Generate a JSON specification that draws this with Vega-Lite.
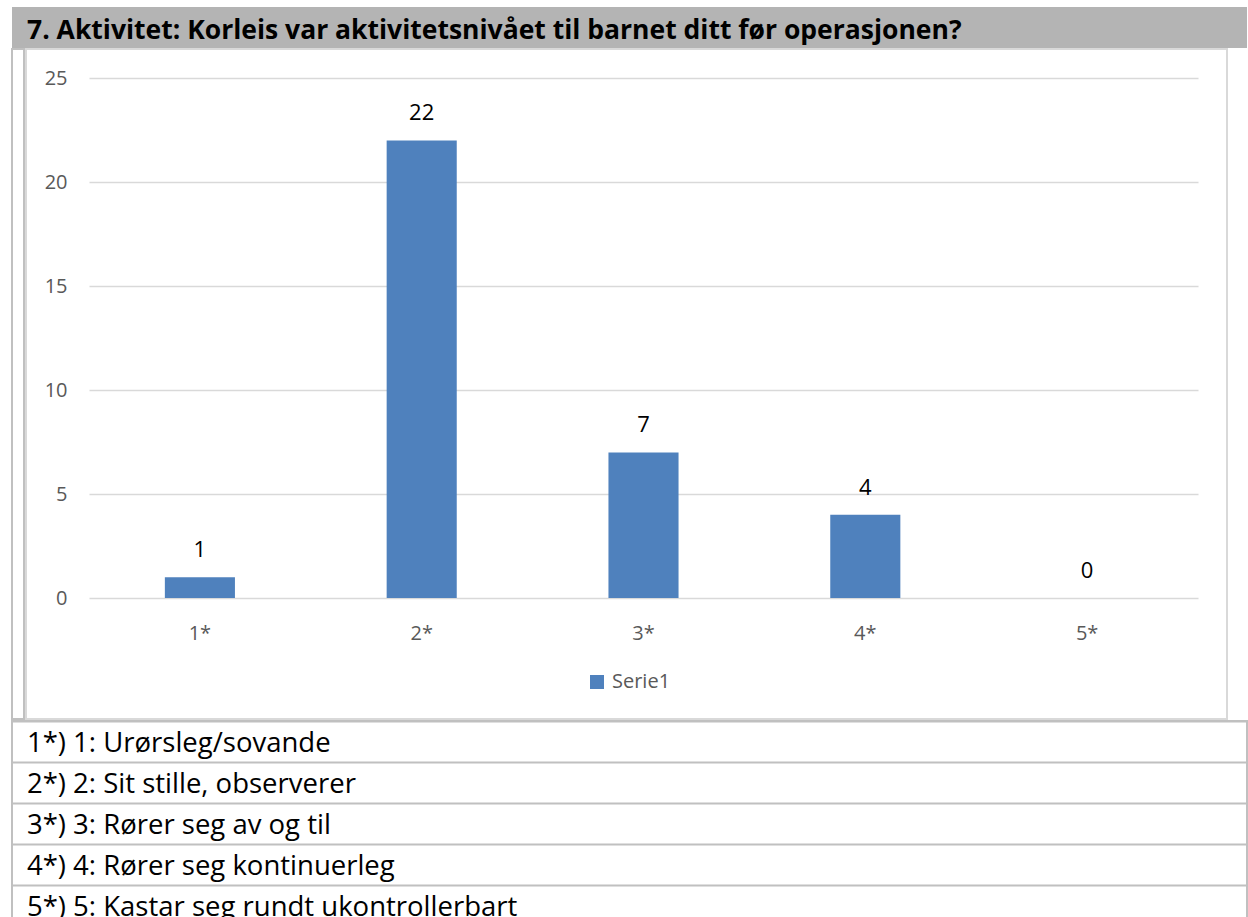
{
  "$schema": "https://vega.github.io/schema/vega-lite/v6.json",
  "padding": {"left": 11, "top": 7, "right": 0, "bottom": 0},
  "background": "white",
  "spacing": 0,
  "config": {
    "view": {"stroke": null},
    "font": "Open Sans",
    "concat": {"spacing": 0}
  },
  "vconcat": [
    {
      "width": 1235,
      "height": 41,
      "view": {"fill": "#b4b4b4", "stroke": null},
      "data": {"values": [{"title": "7. Aktivitet: Korleis var aktivitetsnivået til barnet ditt før operasjonen?"}]},
      "mark": {"type": "text", "align": "left", "baseline": "middle", "font": "Open Sans", "fontWeight": "bold", "fontSize": 26.5, "color": "#000000"},
      "encoding": {"text": {"field": "title"}, "x": {"value": 15}, "y": {"value": 24}}
    },
    {
      "hconcat": [
        {
          "width": 12,
          "height": 670,
          "view": {"stroke": "#c0c0c0", "strokeWidth": 2},
          "data": {"values": []},
          "mark": {"type": "rule"},
          "encoding": {}
        },
        {
          "width": 1201,
          "height": 670,
          "view": {"stroke": "#d9d9d9", "strokeWidth": 2},
          "data": {"values": [
            {"kategori": "1*", "antal": 1, "serie": "Serie1"},
            {"kategori": "2*", "antal": 22, "serie": "Serie1"},
            {"kategori": "3*", "antal": 7, "serie": "Serie1"},
            {"kategori": "4*", "antal": 4, "serie": "Serie1"},
            {"kategori": "5*", "antal": 0, "serie": "Serie1"}
          ]},
          "encoding": {
            "x": {
              "field": "kategori", "type": "ordinal", "sort": null,
              "scale": {"range": [63, 1172], "paddingInner": 0.684, "paddingOuter": 0.342},
              "axis": {"title": null, "orient": "bottom", "offset": -121, "domain": false, "ticks": false, "tickSize": 0, "labelPadding": 35, "labelBaseline": "middle", "labelAngle": 0, "labelFont": "Open Sans", "labelFontSize": 20, "labelColor": "#595959", "grid": false}
            },
            "y": {
              "field": "antal", "type": "quantitative",
              "scale": {"domain": [0, 25], "range": [549, 29], "nice": false, "zero": true},
              "axis": {"title": null, "orient": "left", "offset": -63, "values": [0, 5, 10, 15, 20, 25], "domain": false, "ticks": false, "tickSize": 0, "labelPadding": 22, "labelFont": "Open Sans", "labelFontSize": 20, "labelColor": "#595959", "grid": true, "gridColor": "#d9d9d9", "gridWidth": 1.5}
            }
          },
          "layer": [
            {
              "mark": {"type": "bar"},
              "encoding": {
                "color": {
                  "field": "serie", "type": "nominal",
                  "scale": {"range": ["#4f81bd"]},
                  "legend": {"title": null, "orient": "none", "legendX": 575, "legendY": 665, "symbolType": "square", "symbolSize": 196, "symbolStrokeWidth": 0, "labelFont": "Open Sans", "labelFontSize": 20, "labelColor": "#595959", "labelOffset": 5, "padding": 0}
                }
              }
            },
            {
              "mark": {"type": "text", "baseline": "middle", "dy": -27, "font": "Open Sans", "fontSize": 22, "color": "#000000"},
              "encoding": {"text": {"field": "antal", "type": "quantitative"}}
            }
          ]
        }
      ]
    },
    {
      "width": 1235,
      "height": 197,
      "view": {"stroke": "#c0c0c0", "strokeWidth": 2},
      "data": {"values": [
        {"rad": "1*) 1: Urørsleg/sovande"},
        {"rad": "2*) 2: Sit stille, observerer"},
        {"rad": "3*) 3: Rører seg av og til"},
        {"rad": "4*) 4: Rører seg kontinuerleg"},
        {"rad": "5*) 5: Kastar seg rundt ukontrollerbart"}
      ]},
      "mark": {"type": "text", "align": "left", "baseline": "middle", "dy": 23, "font": "Open Sans", "fontSize": 27.5, "color": "#000000", "clip": true},
      "encoding": {
        "text": {"field": "rad"},
        "x": {"value": 15},
        "y": {
          "field": "rad", "type": "nominal", "sort": null,
          "scale": {"range": [-20.5, 184.5], "paddingInner": 0, "paddingOuter": 0},
          "axis": {"title": null, "labels": false, "ticks": false, "domain": false, "grid": true, "bandPosition": 0, "gridColor": "#c0c0c0", "gridWidth": 2}
        }
      }
    }
  ]
}
